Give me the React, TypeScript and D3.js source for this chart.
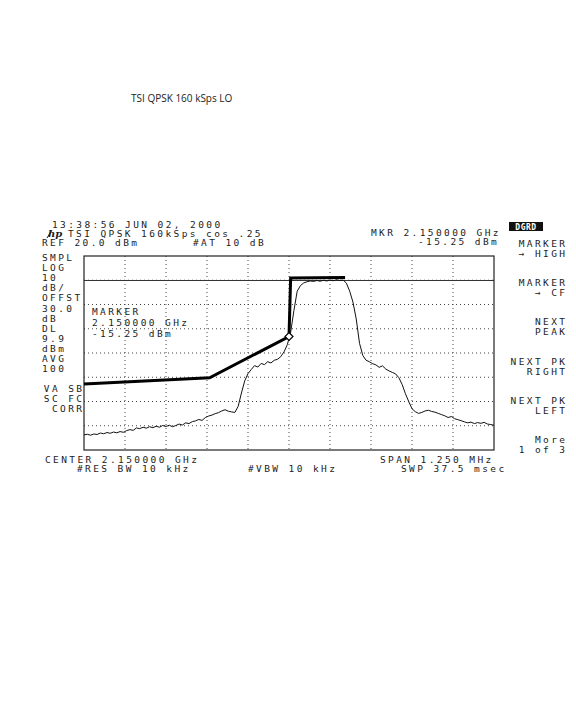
import React from "react";
import * as d3 from "d3";

// ---- data ----
const titleText = "TSI QPSK 160 kSps LO";
const headerLines = ["13:38:56 JUN 02, 2000", "TSI QPSK 160kSps cos .25"];
const refText = "REF 20.0 dBm";
const attText = "#AT 10 dB";
const mkrLines = ["MKR 2.150000 GHz", "-15.25 dBm"];
const markerBox = ["MARKER", "2.150000 GHz", "-15.25 dBm"];
const leftLabels = ["SMPL", "LOG", "10", "dB/", "OFFST", "30.0", "dB", "DL", "9.9", "dBm", "AVG", "100"];
const leftLabels2 = ["VA SB", "SC FC", "CORR"];
const softkeys = [
  ["MARKER", "\u2192 HIGH"],
  ["MARKER", "\u2192 CF"],
  ["NEXT", "PEAK"],
  ["NEXT PK", "RIGHT"],
  ["NEXT PK", "LEFT"],
  ["More", "1 of 3"],
];
const bottomLeft = ["CENTER 2.150000 GHz", "#RES BW 10 kHz"];
const bottomMid = "#VBW 10 kHz";
const bottomRight = ["SPAN 1.250 MHz", "SWP 37.5 msec"];

const spanKHz = [-625, 625];
const refRangeDbm = [-60, 20];
const gridKHz = [-500, -375, -250, -125, 0, 125, 250, 375, 500];
const gridDbm = [10, 0, -10, -20, -30, -40, -50];
const displayLineDbm = 9.9;

const traceStartKHz = -625;
const traceStepKHz = 10;
const traceDbm = [
  -53.8, -53.5, -53.9, -53.4, -53.6, -53.0, -53.3, -52.8, -53.1, -52.6,
  -52.9, -52.4, -52.7, -52.0, -51.6, -51.9, -50.9, -51.2, -50.6, -51.0,
  -50.4, -50.8, -50.2, -50.6, -49.9, -50.3, -49.8, -50.4, -49.9, -49.3,
  -49.7, -48.8, -49.1, -48.3, -48.0, -47.4, -47.8, -46.6, -46.0, -45.6,
  -45.0, -44.6, -43.9, -43.4, -44.0, -44.3, -44.5, -42.0, -36.5, -31.5,
  -28.5, -26.8, -25.2, -25.8, -24.3, -24.8, -23.6, -24.1, -23.0, -22.6,
  -21.5, -19.5, -16.5, -11.5, -2.5, 5.5, 7.8, 8.9, 9.4, 9.7,
  9.5, 9.9, 9.6, 10.0, 9.7, 10.1, 9.8, 10.2, 9.9, 10.1,
  8.8, 5.5, 1.0, -6.0, -16.0, -21.0, -23.0, -23.6, -24.4, -24.9,
  -25.9, -25.3, -26.6, -27.4, -28.0, -28.6, -30.2, -33.0, -36.8, -40.0,
  -43.0, -44.2, -44.9, -44.5, -43.9, -43.6, -44.1, -44.4, -44.9, -45.4,
  -45.9, -46.6, -46.2, -47.1, -47.5, -47.9, -48.4, -48.8, -48.5, -49.1,
  -48.7, -49.0, -48.6, -49.3, -49.5, -49.8,
];

const limitKHz = [-625, -242, 0, 5, 171];
const limitDbm = [-32.8, -30.2, -13.2, 10.9, 11.1];
const markerKHz = 0;
const markerDbm = -13.2;

// ---- layout ----
const PL = 84, PR = 494, PT = 256, PB = 450;
const MONO = "'DejaVu Sans Mono', monospace";
const FS = 9.5;
const LS = 2.4;
const INK = "#1c1c1c";

function T({ x, y, children, anchor = "start" }: any) {
  const dx = anchor === "end" ? LS : 0;
  return (
    <text
      x={x + dx}
      y={y}
      textAnchor={anchor}
      fontFamily={MONO}
      fontSize={FS}
      letterSpacing={LS}
      fill={INK}
    >
      {children}
    </text>
  );
}

export default function App() {
  const x = d3.scaleLinear().domain(spanKHz).range([PL, PR]);
  const y = d3.scaleLinear().domain(refRangeDbm).range([PB, PT]);

  const tracePts: [number, number][] = traceDbm.map((v, i) => [traceStartKHz + i * traceStepKHz, v]);
  const line = d3
    .line<[number, number]>()
    .x((d) => x(d[0]))
    .y((d) => y(d[1]));
  const limitPts: [number, number][] = limitKHz.map((k, i) => [k, limitDbm[i]]);

  const mx = x(markerKHz);
  const my = y(markerDbm);

  return (
    <svg width={576} height={720} style={{ position: "absolute", left: 0, top: 0, background: "#fff" }}>
      <rect x={0} y={0} width={576} height={720} fill="#fff" />
      <text x={131} y={102} fontFamily="'Open Sans', sans-serif" fontSize={10} fill="#222">
        {titleText}
      </text>

      {/* header */}
      <T x={52} y={228}>{headerLines[0]}</T>
      <text x={48} y={237} fontFamily="'DejaVu Serif', serif" fontStyle="italic" fontWeight="bold" fontSize={10} fill={INK}>
        hp
      </text>
      <line x1={47} y1={238} x2={52} y2={230} stroke={INK} strokeWidth={1} />
      <T x={68} y={237}>{headerLines[1]}</T>
      <T x={42} y={246}>{refText}</T>
      <T x={193} y={246}>{attText}</T>
      <T x={371} y={236}>{mkrLines[0]}</T>
      <T x={418} y={245}>{mkrLines[1]}</T>

      {/* DGRD box */}
      <rect x={509} y={222} width={34} height={9} fill="#111" />
      <text x={526} y={230} textAnchor="middle" fontFamily={MONO} fontSize={8} fontWeight="bold" fill="#fff" letterSpacing={0.5}>
        DGRD
      </text>

      {/* softkeys */}
      {softkeys.map((s, i) => (
        <g key={i}>
          <T x={565} y={247 + i * 39.2} anchor="end">{s[0]}</T>
          <T x={565} y={257 + i * 39.2} anchor="end">{s[1]}</T>
        </g>
      ))}

      {/* left labels */}
      {leftLabels.map((s, i) => (
        <T key={s + i} x={42} y={261 + i * 10.1}>{s}</T>
      ))}
      {leftLabels2.map((s, i) => (
        <T key={s + i} x={82} y={392 + i * 10} anchor="end">{s}</T>
      ))}

      {/* grid */}
      {gridKHz.map((k) => (
        <line key={"v" + k} x1={x(k)} x2={x(k)} y1={PT} y2={PB} stroke="#444" strokeWidth={1} strokeDasharray="1 3" />
      ))}
      {gridDbm.map((v) => (
        <line key={"h" + v} x1={PL} x2={PR} y1={y(v)} y2={y(v)} stroke="#444" strokeWidth={1} strokeDasharray="1 3" />
      ))}
      {/* display line */}
      <line x1={PL} x2={PR} y1={y(displayLineDbm)} y2={y(displayLineDbm)} stroke="#333" strokeWidth={1} />
      {/* frame */}
      <rect x={PL} y={PT} width={PR - PL} height={PB - PT} fill="none" stroke="#222" strokeWidth={1.2} />

      {/* marker annotation */}
      <T x={92} y={315}>{markerBox[0]}</T>
      <T x={92} y={326}>{markerBox[1]}</T>
      <T x={92} y={337}>{markerBox[2]}</T>

      {/* trace */}
      <path d={line(tracePts) || ""} fill="none" stroke="#111" strokeWidth={1} />
      {/* limit line */}
      <path d={line(limitPts) || ""} fill="none" stroke="#000" strokeWidth={3} strokeLinejoin="miter" />
      {/* marker */}
      <path
        d={`M${mx},${my - 4}L${mx + 4},${my}L${mx},${my + 4}L${mx - 4},${my}Z`}
        fill="#fff"
        stroke="#000"
        strokeWidth={1.2}
      />

      {/* bottom */}
      <T x={45} y={463}>{bottomLeft[0]}</T>
      <T x={77} y={472}>{bottomLeft[1]}</T>
      <T x={248} y={472}>{bottomMid}</T>
      <T x={380} y={463}>{bottomRight[0]}</T>
      <T x={401} y={472}>{bottomRight[1]}</T>
    </svg>
  );
}
